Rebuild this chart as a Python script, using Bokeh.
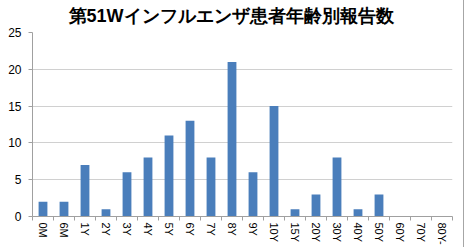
import numpy as np
from bokeh.plotting import figure
from bokeh.models import Range1d, FixedTicker, ColumnDataSource
from bokeh.embed import file_html
from bokeh.resources import INLINE

title_text = "第51Wインフルエンザ患者年齢別報告数"
categories = ["0M", "6M", "1Y", "2Y", "3Y", "4Y", "5Y", "6Y", "7Y", "8Y",
              "9Y", "10Y", "15Y", "20Y", "30Y", "40Y", "50Y", "60Y", "70Y", "80Y-"]
counts = [2, 2, 7, 1, 6, 8, 11, 13, 8, 21, 6, 15, 1, 3, 8, 1, 3, 0, 0, 0]
y_ticks = [0, 5, 10, 15, 20, 25]

n = len(categories)
xs = np.arange(n) + 0.5
src = ColumnDataSource(dict(x=xs, top=counts, cat=categories))

p = figure(width=464, height=247, output_backend="svg", toolbar_location=None,
           x_range=Range1d(0, n), y_range=Range1d(0, 25),
           min_border_left=32, min_border_right=12, min_border_top=0, min_border_bottom=31)
p.styles = {"border-right": "1px solid #a6a6a6"}

p.title.text = title_text
p.title.align = "left"
p.title.vertical_align = "top"
p.title.text_font = "Liberation Sans"
p.title.text_font_size = "18px"
p.title.text_font_style = "bold"
p.title.text_color = "#000000"
p.title.offset = 36
p.title.standoff = 10

p.vbar(x="x", top="top", width=0.42, source=src, color="#4a7ebb", line_color=None)

p.outline_line_color = None
p.xgrid.grid_line_color = None
p.ygrid.grid_line_color = "#d0d0d0"
p.ygrid.ticker = FixedTicker(ticks=y_ticks)

p.yaxis.ticker = FixedTicker(ticks=y_ticks, minor_ticks=[])
p.yaxis.axis_line_color = "#a0a0a0"
p.yaxis.major_tick_line_color = "#a0a0a0"
p.yaxis.major_tick_out = 4
p.yaxis.major_tick_in = 0
p.yaxis.minor_tick_line_color = None
p.yaxis.major_label_text_font = "Liberation Sans"
p.yaxis.major_label_text_font_size = "12px"
p.yaxis.major_label_text_color = "#000000"
p.yaxis.major_label_standoff = 7

p.xaxis.ticker = FixedTicker(ticks=list(xs), minor_ticks=list(range(n + 1)))
p.xaxis.major_label_overrides = {float(x): c for x, c in zip(xs, categories)}
p.xaxis.major_label_orientation = "vertical"
p.xaxis.axis_line_color = "#a0a0a0"
p.xaxis.major_tick_line_color = None
p.xaxis.minor_tick_line_color = "#a0a0a0"
p.xaxis.minor_tick_out = 4
p.xaxis.minor_tick_in = 0
p.xaxis.major_tick_out = 0
p.xaxis.major_label_standoff = 2
p.xaxis.major_label_text_font = "Liberation Sans"
p.xaxis.major_label_text_font_size = "11px"
p.xaxis.major_label_text_color = "#000000"

open("out.html", "w").write(file_html(p, INLINE))
